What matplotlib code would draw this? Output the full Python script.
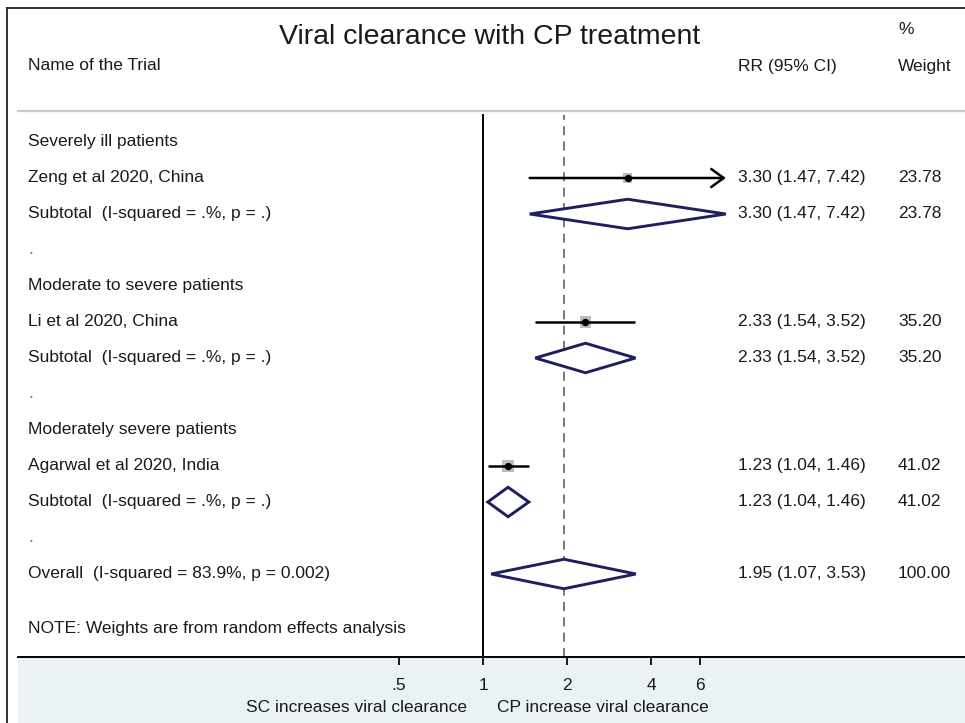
import numpy as np
import matplotlib
matplotlib.use("Agg")
import matplotlib.pyplot as plt
from matplotlib.patches import Polygon, Rectangle
from matplotlib.lines import Line2D
import matplotlib.transforms as mtransforms

plt.rcParams['font.family'] = ['Liberation Sans', 'DejaVu Sans']

# ---------------- data ----------------
title = "Viral clearance with CP treatment"
row_labels = [
    "Severely ill patients",
    "Zeng et al 2020, China",
    "Subtotal  (I-squared = .%, p = .)",
    ".",
    "Moderate to severe patients",
    "Li et al 2020, China",
    "Subtotal  (I-squared = .%, p = .)",
    ".",
    "Moderately severe patients",
    "Agarwal et al 2020, India",
    "Subtotal  (I-squared = .%, p = .)",
    ".",
    "Overall  (I-squared = 83.9%, p = 0.002)",
]
row_kind = ["head", "study", "pooled", "dot",
            "head", "study", "pooled", "dot",
            "head", "study", "pooled", "dot",
            "pooled"]
rr      = [None, 3.30, 3.30, None, None, 2.33, 2.33, None, None, 1.23, 1.23, None, 1.95]
ci_low  = [None, 1.47, 1.47, None, None, 1.54, 1.54, None, None, 1.04, 1.04, None, 1.07]
ci_high = [None, 7.42, 7.42, None, None, 3.52, 3.52, None, None, 1.46, 1.46, None, 3.53]
weight  = [None, 23.78, 23.78, None, None, 35.20, 35.20, None, None, 41.02, 41.02, None, 100.00]
overall_rr = 1.95
note = "NOTE: Weights are from random effects analysis"
xticks = [0.5, 1, 2, 4, 6]
xtick_labels = [".5", "1", "2", "4", "6"]
left_favour = "SC increases viral clearance"
right_favour = "CP increase viral clearance"

# ---------------- layout ----------------
W, H = 965, 723
fig = plt.figure(figsize=(W / 100, H / 100), dpi=100)
fig.patch.set_facecolor("white")

def fx(px):
    return px / W

def fy(py):
    return 1 - py / H

ax_l, ax_r, ax_t, ax_b = 18, 965, 112, 657
ax = fig.add_axes([fx(ax_l), fy(ax_b), fx(ax_r - ax_l), (ax_b - ax_t) / H])
ax.set_facecolor("white")
ax.set_zorder(2)

# light blue band under the axis
fig.patches.append(Rectangle((fx(18), 0), fx(965 - 18), fy(ax_b), transform=fig.transFigure,
                             facecolor="#eaf2f6", edgecolor="none", zorder=0))

# frame lines
fig.lines.append(Line2D([fx(7), 1], [fy(7.5), fy(7.5)], transform=fig.transFigure,
                        color="#222222", lw=1.3, zorder=5))
fig.lines.append(Line2D([fx(7), fx(7)], [fy(7.5), 0], transform=fig.transFigure,
                        color="#222222", lw=1.3, zorder=5))
# grey header separator
fig.lines.append(Line2D([fx(18), 1], [fy(111), fy(111)], transform=fig.transFigure,
                        color="#c8c8c8", lw=1.6, zorder=5))

# scales: x log, px 483 <-> 1, 279 px per decade
ppd = 279.0
x0px = 483.0
ax.set_xscale("log")
ax.set_xlim(10 ** ((ax_l - x0px) / ppd), 10 ** ((ax_r - x0px) / ppd))
row0px, rowstep = 142.0, 36.0
ax.set_ylim(1 + (ax_b - row0px) / rowstep, 1 + (ax_t - row0px) / rowstep)

for s in ["top", "right", "left"]:
    ax.spines[s].set_visible(False)
ax.spines["bottom"].set_linewidth(1.4)
ax.spines["bottom"].set_color("black")
ax.set_yticks([])
ax.set_xticks(xticks)
ax.set_xticklabels(xtick_labels)
ax.xaxis.set_minor_locator(matplotlib.ticker.NullLocator())
ax.tick_params(axis="x", direction="out", length=6, width=1.4, pad=9,
               labelsize=12.5, colors="#1a1a1a")

# reference lines
ax.axvline(1, color="black", lw=1.4, zorder=1, ymax=0.995)
ax.axvline(overall_rr, color="#7d6767", lw=1.3, ls=(0, (5, 3.5)), zorder=1, ymax=0.995)

txt_kw = dict(fontsize=12.5, color="#1a1a1a", va="center")
lab_tr = mtransforms.blended_transform_factory(fig.transFigure, ax.transData)

diamond_col = "#1f1f5f"
for i, lab in enumerate(row_labels):
    r = i + 1
    kind = row_kind[i]
    if kind == "dot":
        ax.text(fx(28), r, lab, transform=lab_tr, fontsize=12.5, color="#666666", va="center")
        continue
    ax.text(fx(28), r, lab, transform=lab_tr, **txt_kw)
    if rr[i] is None:
        continue
    ax.text(fx(738), r, f"{rr[i]:.2f} ({ci_low[i]:.2f}, {ci_high[i]:.2f})", transform=lab_tr, **txt_kw)
    ax.text(fx(898), r, f"{weight[i]:.2f}", transform=lab_tr, **txt_kw)
    if kind == "study":
        if ci_high[i] > max(xticks):
            ax.annotate("", xy=(ci_high[i], r), xytext=(ci_low[i], r),
                        arrowprops=dict(arrowstyle="->,head_length=0.9,head_width=0.65",
                                        lw=1.8, color="black", shrinkA=0, shrinkB=0),
                        zorder=3)
        else:
            ax.plot([ci_low[i], ci_high[i]], [r, r], color="black", lw=1.8, zorder=3,
                    solid_capstyle="butt")
        ax.scatter([rr[i]], [r], marker="s", s=1.9 * weight[i], color="#bdbdbd",
                   edgecolor="none", zorder=2.5)
        ax.plot([rr[i]], [r], marker="o", ms=4.3, color="black", zorder=4)
    else:
        h = 0.41
        poly = Polygon([(ci_low[i], r), (rr[i], r - h), (ci_high[i], r), (rr[i], r + h)],
                       closed=True, facecolor="white", edgecolor=diamond_col, lw=2.1, zorder=3,
                       joinstyle="miter")
        ax.add_patch(poly)

ax.text(fx(28), 1 + (629 - row0px) / rowstep, note, transform=lab_tr, **txt_kw)

# header
fig.text(fx(490), fy(37), title, fontsize=20.5, color="#1a1a1a", ha="center", va="center")
fig.text(fx(28), fy(66), "Name of the Trial", fontsize=12.5, color="#1a1a1a", va="center")
fig.text(fx(738), fy(66), "RR (95% CI)", fontsize=12.5, color="#1a1a1a", va="center")
fig.text(fx(898), fy(29), "%", fontsize=12.5, color="#1a1a1a", va="center")
fig.text(fx(898), fy(66), "Weight", fontsize=12.5, color="#1a1a1a", va="center")

# favour labels
fig.text(fx(x0px - 16), fy(708), left_favour, fontsize=12.5, color="#1a1a1a", ha="right", va="center")
fig.text(fx(x0px + 14), fy(708), right_favour, fontsize=12.5, color="#1a1a1a", ha="left", va="center")

fig.savefig("out.png", dpi=100, facecolor="white")
